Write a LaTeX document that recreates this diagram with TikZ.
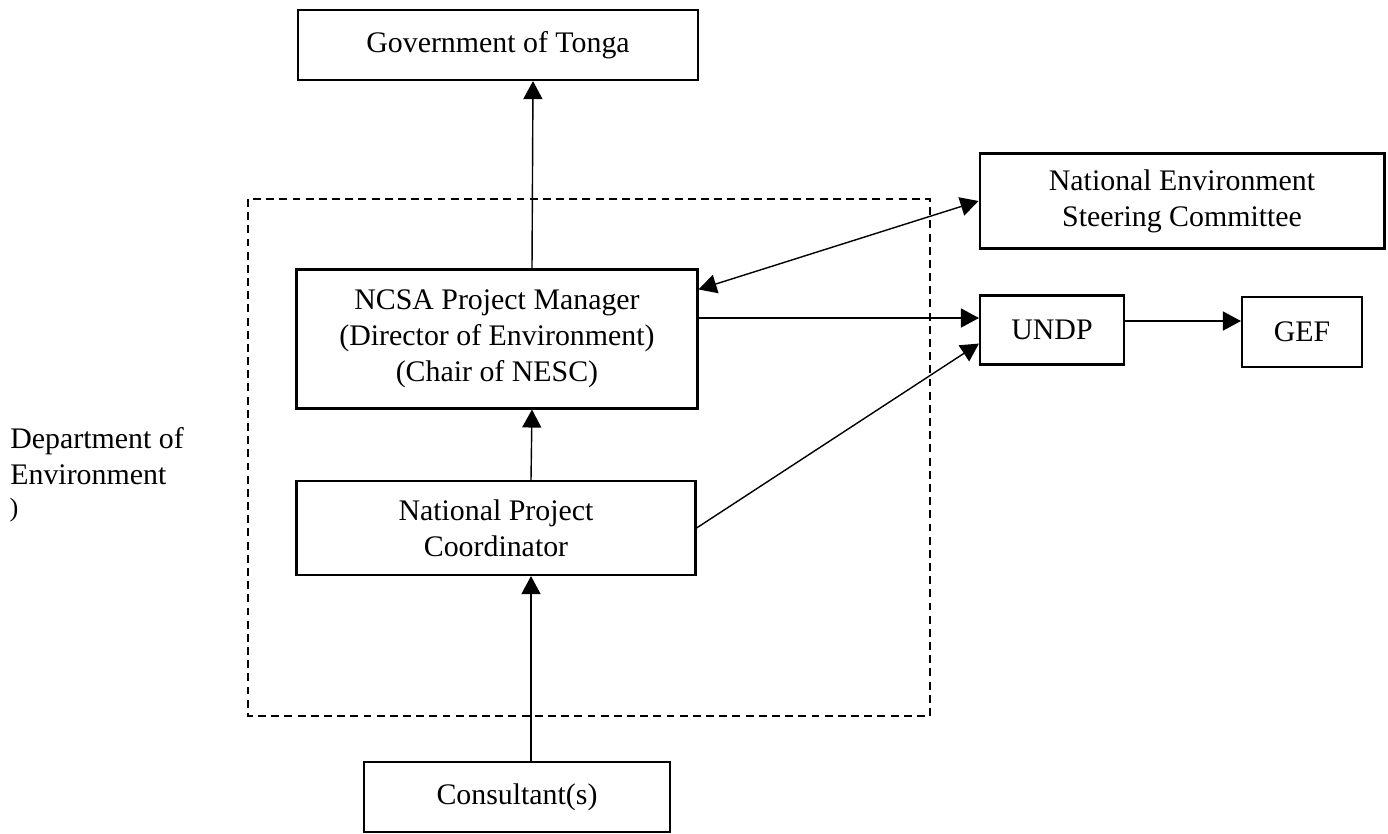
\documentclass[tikz,border=0pt]{standalone}
\usepackage{fontspec}
\setmainfont{Liberation Serif}
\usetikzlibrary{positioning, shapes.geometric, arrows.meta}

\begin{document}
\begin{tikzpicture} [x=0.02cm, y=-0.02cm,
  box/.style={draw, line width=1.2pt, align=center, inner sep=0pt, font=\fontsize{17}{20.5}\selectfont},
  arr/.style={-{Triangle[length=3.6mm, width=3.8mm]}, line width=0.8pt},
  twoway/.style={{Triangle[length=3.6mm, width=3.8mm]}-{Triangle[length=3.6mm, width=3.8mm]}, line width=0.8pt},
  dept/.style={dash pattern=on 4.5pt off 3pt, line width=0.9pt}]
\useasboundingbox (0,0) rectangle (1388,833);
\draw[dept] (248,199) rectangle (930,716);
\node[box, minimum width=8cm, minimum height=1.4cm] (gov) at (498,45) {Government of Tonga};
\node[box, minimum width=8.02cm, minimum height=2.78cm] (ncsa) at (497,339) {NCSA Project Manager\\(Director of Environment)\\(Chair of NESC)};
\node[box, minimum width=7.98cm, minimum height=1.88cm] (npc) at (496,528) {National Project\\Coordinator};
\node[box, minimum width=6.12cm, minimum height=1.4cm] (cons) at (517,797) {Consultant(s)};
\node[box, minimum width=8.1cm, minimum height=1.9cm] (nesc) at (1182,201) {National Environment\\Steering Committee};
\node[box, minimum width=2.88cm, minimum height=1.38cm] (undp) at (1052,330) {UNDP};
\node[box, minimum width=2.4cm, minimum height=1.4cm] (gef) at (1302,332) {GEF};
\node[anchor=north west, align=left, inner sep=0pt, font=\fontsize{17}{20.5}\selectfont] (deptlabel) at (10,427) {Department of\\Environment};
\node[inner sep=0pt, font=\fontsize{15}{15}\selectfont] (paren) at (14,510) {)};
% arrows
\draw[arr] ([xshift=7mm]ncsa.north) -- ([xshift=7mm]gov.south);
\draw[arr] ([xshift=7mm]npc.north) -- ([xshift=7mm]ncsa.south);
\draw[arr] ([xshift=7mm]npc.south |- cons.north) -- ([xshift=7mm]npc.south);
\draw[twoway] ([yshift=-0.42cm]ncsa.north east) -- (nesc.west);
\draw[arr] ([yshift=0.24cm]undp.west -| ncsa.east) -- ([yshift=0.24cm]undp.west);
\draw[arr] (npc.east) -- ([yshift=0.44cm]undp.south west);
\draw[arr] ([yshift=0.18cm]undp.east) -- ([yshift=0.18cm]undp.east -| gef.west);
\end{tikzpicture}
\end{document}
